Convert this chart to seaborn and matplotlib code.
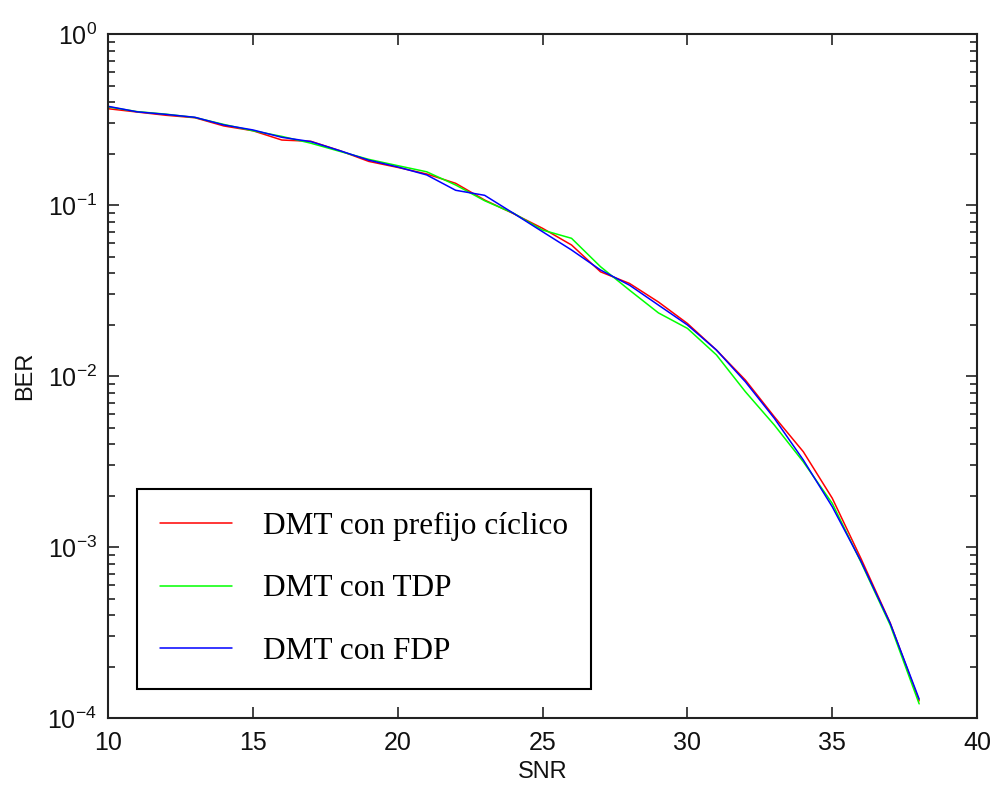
import numpy as np
import pandas as pd
import matplotlib
matplotlib.use("Agg")
import matplotlib.pyplot as plt
from matplotlib.ticker import LogLocator, NullFormatter
import seaborn as sns

# ============================
# datos
# ============================
snr = list(range(10, 39))

ber_cp = [0.366, 0.350, 0.335, 0.324, 0.290, 0.272, 0.240, 0.236, 0.208, 0.180,
          0.166, 0.152, 0.134, 0.107, 0.089, 0.0731, 0.0584, 0.0407, 0.0348, 0.0271,
          0.0203, 0.0142, 0.00948, 0.00578, 0.00361, 0.00193, 0.00085, 0.00036, 0.000126]

ber_tdp = [0.375, 0.352, 0.340, 0.325, 0.296, 0.272, 0.252, 0.230, 0.206, 0.185,
           0.170, 0.1565, 0.131, 0.106, 0.0895, 0.0714, 0.0639, 0.0436, 0.0318, 0.0234,
           0.0190, 0.0133, 0.0081, 0.00517, 0.00315, 0.0018, 0.00081, 0.00035, 0.000121]

ber_fdp = [0.378, 0.351, 0.339, 0.326, 0.294, 0.275, 0.249, 0.235, 0.208, 0.183,
           0.167, 0.150, 0.122, 0.114, 0.0894, 0.0698, 0.0546, 0.0417, 0.0340, 0.0260,
           0.0199, 0.0142, 0.00926, 0.00566, 0.00323, 0.00172, 0.00082, 0.000358, 0.000129]

labels = ["DMT con prefijo cíclico", "DMT con TDP", "DMT con FDP"]
colors = ["#ff0000", "#00ff00", "#0000ff"]

df = pd.concat([
    pd.DataFrame({"SNR": snr, "BER": ber_cp, "serie": labels[0]}),
    pd.DataFrame({"SNR": snr, "BER": ber_tdp, "serie": labels[1]}),
    pd.DataFrame({"SNR": snr, "BER": ber_fdp, "serie": labels[2]}),
], ignore_index=True)

# ============================
# figura
# ============================
sns.set_theme(style="ticks")
plt.rcParams["font.family"] = ["Liberation Sans", "DejaVu Sans"]

fig = plt.figure(figsize=(9.94, 7.92), dpi=100)
ax = fig.add_axes([0.1087, 0.0934, 0.8743, 0.8636])

sns.lineplot(data=df, x="SNR", y="BER", hue="serie", hue_order=labels,
             palette=colors, estimator=None, sort=False, linewidth=1.1, ax=ax)

ax.set_yscale("log")
ax.set_xlim(10, 40)
ax.set_ylim(1e-4, 1)
ax.set_xticks(range(10, 41, 5))
ax.yaxis.set_major_locator(LogLocator(base=10, numticks=10))
ax.yaxis.set_minor_locator(LogLocator(base=10, subs=np.arange(2, 10), numticks=10))
ax.yaxis.set_minor_formatter(NullFormatter())

ax.tick_params(which="both", direction="in", top=True, right=True,
               labelsize=18, colors="#222222", labelcolor="#111111", width=1.2)
ax.tick_params(which="major", length=8)
ax.tick_params(which="minor", length=5)
ax.tick_params(axis="x", which="major", pad=9)
ax.tick_params(axis="y", which="major", pad=8)
for sp in ax.spines.values():
    sp.set_linewidth(1.5)
    sp.set_color("#222222")

ax.set_xlabel("SNR", fontsize=17, labelpad=5, color="#111111")
ax.set_ylabel("BER", fontsize=17, labelpad=8, color="#111111")

leg = ax.legend(loc="lower left", bbox_to_anchor=(0.0334, 0.0424),
                borderaxespad=0, fancybox=False, framealpha=1,
                edgecolor="black", handlelength=2.3, handletextpad=1.0,
                labelspacing=1.08, borderpad=0.73,
                prop={"family": "Liberation Serif", "size": 22.5})
leg.get_frame().set_linewidth(1.5)
for t in leg.get_texts():
    t.set_color("black")

fig.savefig("out.png", dpi=100)
